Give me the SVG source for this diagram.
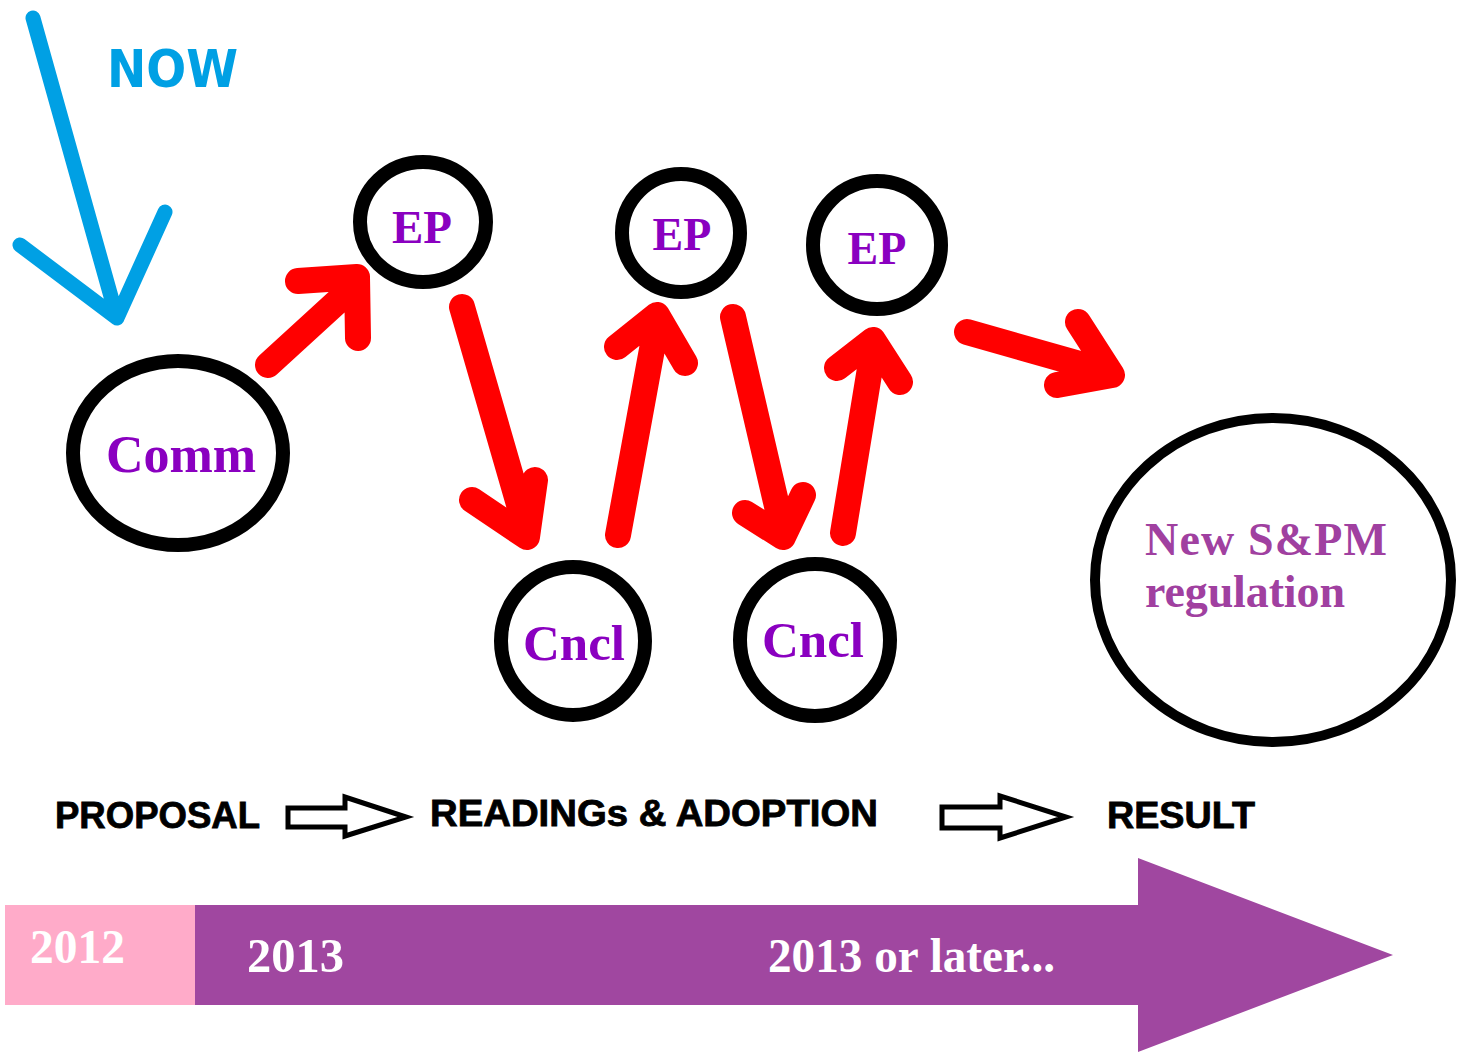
<svg xmlns="http://www.w3.org/2000/svg" width="1461" height="1056" viewBox="0 0 1461 1056">
<style>
.node{fill:#fff;stroke:#000;stroke-width:14}
.lbl{font-family:"Liberation Serif",serif;font-weight:bold;fill:#8a00c0}
.red{fill:none;stroke:#ff0000;stroke-width:26;stroke-linecap:round;stroke-linejoin:round}
.blue{fill:none;stroke:#00a0e4;stroke-width:15;stroke-linecap:round;stroke-linejoin:round}
.phase{font-family:"Liberation Sans",Arial,sans-serif;font-weight:bold;font-size:36px;fill:#000;stroke:#000;stroke-width:0.8}
.hollow{fill:#fff;stroke:#000;stroke-width:5;stroke-linejoin:miter}
.yr{font-family:"Liberation Serif",serif;font-weight:bold;fill:#fff}
</style>
<rect width="1461" height="1056" fill="#fff"/>
<g id="now">
<path class="blue" d="M33,18 L117,318 M20,245 L117,318 L165,212"/>
<text x="107" y="87" font-family="DejaVu Sans,sans-serif" font-weight="bold" font-size="52" fill="#00a0e4" textLength="131" lengthAdjust="spacingAndGlyphs">NOW</text>
</g>
<g id="connectors">
<path class="red" d="M268,365 L350,290 M298,281 L357,277 L358,338"/>
<path class="red" d="M462,307 L527,532 M472,500 L527,537 L535,480"/>
<path class="red" d="M618,535 L657,322 M617,347 L657,315 L685,363"/>
<path class="red" d="M733,317 L783,532 M745,513 L783,537 L803,495"/>
<path class="red" d="M843,533 L873,350 M837,368 L873,340 L900,382"/>
<path class="red" d="M967,332 L1108,372 M1078,322 L1112,375 L1057,385"/>
</g>
<g id="comm">
<ellipse class="node" cx="178" cy="453" rx="105" ry="92"/>
<text class="lbl" x="181" y="472" font-size="52" text-anchor="middle">Comm</text>
</g>
<g id="ep1">
<ellipse class="node" cx="423" cy="222" rx="63" ry="60"/>
<text class="lbl" x="422" y="243" font-size="47" text-anchor="middle">EP</text>
</g>
<g id="ep2">
<ellipse class="node" cx="681" cy="233" rx="59" ry="59"/>
<text class="lbl" x="682" y="250" font-size="46" text-anchor="middle">EP</text>
</g>
<g id="ep3">
<ellipse class="node" cx="877" cy="245" rx="64" ry="64"/>
<text class="lbl" x="877" y="264" font-size="46" text-anchor="middle">EP</text>
</g>
<g id="cncl1">
<ellipse class="node" cx="573" cy="641" rx="72" ry="74"/>
<text class="lbl" x="574" y="660" font-size="51" text-anchor="middle">Cncl</text>
</g>
<g id="cncl2">
<ellipse class="node" cx="815" cy="640" rx="75" ry="76"/>
<text class="lbl" x="813" y="657" font-size="51" text-anchor="middle">Cncl</text>
</g>
<g id="result">
<ellipse cx="1273" cy="580" rx="178" ry="162" fill="#fff" stroke="#000" stroke-width="10"/>
<text x="1145" y="555" font-family="Liberation Serif,serif" font-weight="bold" font-size="46" fill="#a040a0" textLength="242">New S&amp;PM</text>
<text x="1145" y="607" font-family="Liberation Serif,serif" font-weight="bold" font-size="46" fill="#a040a0" textLength="200">regulation</text>
</g>
<g id="phases">
<text class="phase" x="55" y="828" textLength="205" lengthAdjust="spacingAndGlyphs">PROPOSAL</text>
<path class="hollow" d="M288,808 L345,808 L345,797 L406,817 L345,836 L345,827 L288,827 Z"/>
<text class="phase" x="430" y="826" textLength="448" lengthAdjust="spacingAndGlyphs">READINGs &amp; ADOPTION</text>
<path class="hollow" d="M942,807 L1000,807 L1000,796 L1066,817 L1000,838 L1000,828 L942,828 Z"/>
<text class="phase" x="1107" y="828" textLength="148" lengthAdjust="spacingAndGlyphs">RESULT</text>
</g>
<g id="timeline">
<rect x="5" y="905" width="190" height="100" fill="#ffabc9"/>
<path d="M195,905 L1138,905 L1138,858 L1393,955 L1138,1052 L1138,1005 L195,1005 Z" fill="#a047a0"/>
<text class="yr" x="30" y="963" font-size="48" textLength="95" lengthAdjust="spacingAndGlyphs">2012</text>
<text class="yr" x="247" y="972" font-size="48" textLength="97" lengthAdjust="spacingAndGlyphs">2013</text>
<text class="yr" x="768" y="972" font-size="48" textLength="287" lengthAdjust="spacingAndGlyphs">2013 or later...</text>
</g>
</svg>
